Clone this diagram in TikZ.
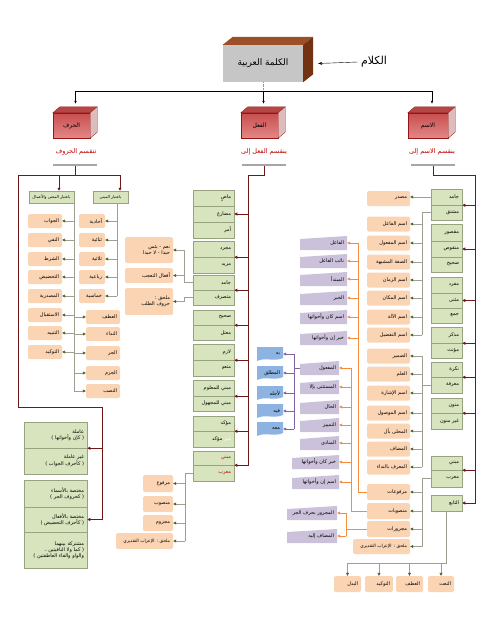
\documentclass[tikz,border=0pt]{standalone}
\usepackage{fontspec}
\newfontfamily\arabicfont[Script=Arabic]{DejaVu Sans}
\TeXXeTstate=1
\usetikzlibrary{arrows.meta, calc}

\newcommand{\ar}[1]{\beginR #1\endR}
% top and side faces of a raised box: node, dx, dy, top, side
\newcommand{\boxsides}[5]{%
  \path[#4] (#1.north west) -- ++(#2,-#3) -- ([shift={(#2,-#3)}]#1.north east) -- (#1.north east) -- cycle;
  \path[#5] (#1.north east) -- ++(#2,-#3) -- ([shift={(#2,-#3)}]#1.south east) -- (#1.south east) -- cycle;}

\definecolor{peachfill}{RGB}{251,212,180}
\definecolor{cellfill}{RGB}{215,228,189}
\definecolor{celldraw}{RGB}{150,162,128}
\definecolor{lavfill}{RGB}{204,193,218}
\definecolor{bluefill}{RGB}{141,179,226}
\definecolor{maroonline}{RGB}{112,24,24}
\definecolor{oliveline}{RGB}{155,160,145}
\definecolor{olivetip}{RGB}{79,98,40}
\definecolor{orangeline}{RGB}{247,140,60}
\definecolor{purpleline}{RGB}{128,100,162}
\definecolor{redlabel}{RGB}{192,0,0}
\definecolor{redtop}{RGB}{200,78,78}
\definecolor{redbot}{RGB}{228,135,135}
\definecolor{redline}{RGB}{150,20,20}

\tikzset{
	every node/.style={font=\arabicfont\fontsize{5}{6}\selectfont}, % small arabic text everywhere
	cell/.style={draw=celldraw, line width=0.5pt, fill=cellfill, text width=#1, align=right, inner xsep=3pt, inner ysep=0pt, minimum height=16}, % green table cell
	peach/.style={fill=peachfill, rounded corners=1.5pt, text width=#1, align=right, inner xsep=3pt, inner ysep=0pt, minimum height=14}, % orange rounded box
	lav/.style={text width=#1, align=right, inner xsep=3pt, inner ysep=0pt, minimum height=14,
		path picture={\fill[lavfill] (path picture bounding box.south west) -- (path picture bounding box.south east) -- (path picture bounding box.north east) -- ([yshift=-3pt]path picture bounding box.north west) -- cycle;}}, % purple slanted box
	bluebox/.style={text width=#1, align=right, inner xsep=3pt, inner ysep=0pt, minimum height=14,
		path picture={\fill[bluefill] (path picture bounding box.north west) -- (path picture bounding box.north east) -- ([yshift=3pt]path picture bounding box.south east) .. controls ([xshift=-8pt,yshift=-1pt]path picture bounding box.south east) and ([xshift=8pt,yshift=4pt]path picture bounding box.south west) .. (path picture bounding box.south west) -- cycle;}}, % blue wavy box
	head/.style={draw=celldraw, line width=0.5pt, fill=cellfill, inner sep=0pt, minimum height=12, font=\arabicfont\fontsize{4}{5}\selectfont}, % header of a list
	small/.style={font=\arabicfont\fontsize{4.4}{5.4}\selectfont},
	redbox/.style={draw=redline, line width=0.4pt, top color=redtop, bottom color=redbot, minimum width=37, minimum height=25, font=\arabicfont\fontsize{6}{7}\selectfont},
	redtxt/.style={text=redlabel, font=\arabicfont\fontsize{6.5}{8}\selectfont},
	bar/.style={fill=gray!70, inner sep=0pt, minimum width=44, minimum height=1.6},
	mline/.style={draw=maroonline, line width=0.8pt},
	marr/.style={mline, -{Triangle[length=3pt,width=3pt]}},
	oline/.style={draw=oliveline, line width=0.6pt},
	oarr/.style={oline, -{Triangle[length=3pt,width=3pt,color=olivetip]}},
	orline/.style={draw=orangeline, line width=0.6pt},
	orarr/.style={orline, -{Triangle[length=3pt,width=3pt]}},
	pline/.style={draw=purpleline, line width=0.6pt},
	parr/.style={pline, -{Triangle[length=3pt,width=3pt]}},
}

\begin{document}
\begin{tikzpicture}[x=1pt, y=-1pt]
	\useasboundingbox (0,0) rectangle (495,640);

	% top
	\node[fill={rgb,255:red,198;green,198;blue,198}, minimum width=80, minimum height=37, font=\arabicfont\fontsize{9}{10}\selectfont] (kalima) at (263,63.5) {\ar{الكلمة العربية}};
	\boxsides{kalima}{10}{8}{fill={rgb,255:red,155;green,80;blue,40}}{fill={rgb,255:red,115;green,50;blue,18}}
	\node[font=\arabicfont\fontsize{11}{12}\selectfont] (kalam) at (374,62) {\ar{الكلام}};
	\draw[-{Stealth[length=4pt]}, thin] (kalam.west) -- ([xshift=15pt]kalima.east);

	\node[redbox] (harf) at (71.5,125.5) {\ar{الحرف}};
	\node[redbox] (fil) at (259.5,125.5) {\ar{الفعل}};
	\node[redbox, minimum width=40] (ism) at (428,125.5) {\ar{الاسم}};
	\foreach \n in {harf,fil,ism}{
		\boxsides{\n}{7}{6}{fill=redtop!90!black, draw=redline, line width=0.3pt}{fill={rgb,255:red,222;green,188;blue,188}, draw=redline, line width=0.3pt}
		\coordinate (\n-in) at ([xshift=4pt]\n.north);
	}
	\coordinate (tbar) at (0,91);
	\draw[orange, densely dotted] (kalima.south) -- (kalima.south |- tbar);
	\draw[thin] (harf-in |- tbar) -- (ism-in |- tbar);
	\foreach \n in {harf,fil,ism}
		\draw[thin, -{Latex[length=3pt,width=2.5pt]}] (\n-in |- tbar) -- ([yshift=9pt]\n-in);

	\node[redtxt] (harflbl) at (76,152) {\ar{تنقسم الحروف}};
	\node[redtxt] (fillbl) at (264,152) {\ar{ينقسم الفعل إلى}};
	\node[redtxt] (ismlbl) at (432,152) {\ar{ينقسم الاسم إلى}};
	\node[bar] (bar1) at (75,165) {};
	\node[bar] (bar2) at (264,165) {};
	\node[bar] (bar3) at (433,165) {};

	% ---------------- harf
	\node[head, minimum width=45] (maana) at (51.5,197) {\ar{باعتبار المعنى والأعمال}};
	\node[head, minimum width=35] (mabna) at (110.5,197) {\ar{باعتبار المبنى}};

	\node[peach=28] (jawab) at (45,221) {\ar{الجواب}};
	\node[peach=28] (nafy) at (45,240) {\ar{النفي}};
	\node[peach=28] (shart) at (45,259) {\ar{الشرط}};
	\node[peach=28] (tahdid) at (45,277) {\ar{التحضيض}};
	\node[peach=28] (masdariya) at (45,296) {\ar{المصدرية}};
	\node[peach=28] (istiqbal) at (45,315) {\ar{الاستقبال}};
	\node[peach=28] (tanbih) at (45,333) {\ar{التنبيه}};
	\node[peach=28] (tawkid) at (45,352) {\ar{التوكيد}};

	\node[peach=20] (ahadiya) at (92,221) {\ar{أحادية}};
	\node[peach=20] (thunaiya) at (92,240) {\ar{ثنائية}};
	\node[peach=20] (thulathiya) at (92,259) {\ar{ثلاثية}};
	\node[peach=20] (rubaiya) at (92,277) {\ar{رباعية}};
	\node[peach=20] (khumasiya) at (92,296) {\ar{خماسية}};

	\node[peach=28] (atf) at (103,317) {\ar{العطف}};
	\node[peach=28] (nida) at (103,334) {\ar{النداء}};
	\node[peach=28] (jarr) at (103,353) {\ar{الجر}};
	\node[peach=28] (jazm) at (103,373) {\ar{الجزم}};
	\node[peach=28] (nasb) at (103,391) {\ar{النصب}};

	\node[cell=57, minimum height=26] (g1a) at (55.5,435) {\ar{عاملة}\\\ar{( كإن وأخواتها )}};
	\node[cell=57, minimum height=26] (g1b) at (55.5,461) {\ar{غير عاملة}\\\ar{( كأحرف الجواب )}};
	\node[cell=57, minimum height=27] (g2a) at (55.5,493.5) {\ar{مختصة بالأسماء}\\\ar{( كحروف الجر )}};
	\node[cell=57, minimum height=25] (g2b) at (55.5,519.5) {\ar{مختصة بالأفعال}\\\ar{( كأحرف التحضيض )}};
	\node[cell=57, minimum height=36] (g2c) at (55.5,550) {\ar{مشتركة بينهما}\\\ar{( كما ولا النافيتين ،}\\\ar{والواو والفاء العاطفتين )}};

	\coordinate (lc1) at (18,175);
	\coordinate (lc2) at (18,407);
	\coordinate (lc3) at (102,407);
	\coordinate (lc4) at (120,175);
	\coordinate (lc5) at ([xshift=7.5pt]maana.north);
	\draw[mline] (bar1.south) -- (bar1.south |- lc1);
	\draw[mline] (lc3) -- (lc2) -- (lc1) -- (lc4);
	\draw[mline] (lc3) -- (g2b.east -| lc3);
	\draw[marr] (lc5 |- lc1) -- (lc5);
	\draw[marr] (lc4) -- (lc4 |- mabna.north);
	\draw[marr] (g1a.south east -| lc3) -- (g1a.south east);
	\draw[marr] (g2b.east -| lc3) -- (g2b.east);

	\coordinate (t1) at (117,0);
	\coordinate (t2) at (74,0);
	\draw[oline] (mabna.south -| t1) -- (khumasiya.east -| t1);
	\draw[oline] (maana.south -| t2) -- (nasb.west -| t2);
	\foreach \n in {ahadiya,thunaiya,thulathiya,rubaiya,khumasiya}
		\draw[oarr] (\n.east -| t1) -- (\n.east);
	\foreach \n in {jawab,nafy,shart,tahdid,masdariya,istiqbal,tanbih,tawkid}
		\draw[oarr] (\n.east -| t2) -- (\n.east);
	\foreach \n in {atf,nida,jarr,jazm,nasb}
		\draw[oarr] (\n.west -| t2) -- (\n.west);

	% ---------------- fil
	\node[cell=35] (madi) at (213.5,198) {\ar{ماضٍ}};
	\node[cell=35] (mudari) at (213.5,214) {\ar{مضارع}};
	\node[cell=35] (amr) at (213.5,230) {\ar{أمر}};
	\node[cell=35] (mujarrad) at (213.5,249) {\ar{مجرد}};
	\node[cell=35] (mazid) at (213.5,265) {\ar{مزيد}};
	\node[cell=35, minimum height=15] (jamid) at (213.5,282.5) {\ar{جامد}};
	\node[cell=35, minimum height=15] (mutasarrif) at (213.5,297.5) {\ar{متصرف}};
	\node[cell=35, minimum height=15] (sahih) at (213.5,317.5) {\ar{صحيح}};
	\node[cell=35, minimum height=15] (mutal) at (213.5,332.5) {\ar{معتل}};
	\node[cell=35] (lazim) at (213.5,352) {\ar{لازم}};
	\node[cell=35] (mutaaddi) at (213.5,368) {\ar{متعدٍ}};
	\node[cell=35] (malum) at (213.5,388) {\ar{مبني للمعلوم}};
	\node[cell=35, minimum height=15] (majhul) at (213.5,403.5) {\ar{مبني للمجهول}};
	\node[cell=35, minimum height=15] (muakkad) at (213.5,423.5) {\ar{مؤكد}};
	\node[cell=35] (ghmuakkad) at (213.5,439) {\ar{\textcolor{redlabel}{غير} مؤكد}};
	\node[cell=35, minimum height=14, text=redlabel] (mabni) at (213.5,458) {\ar{مبني}};
	\node[cell=35, text=redlabel] (murab) at (213.5,473) {\ar{معرب}};

	\node[peach=42, minimum height=26] (nimaa) at (149,250) {\ar{نعم - بئس}\\\ar{حبذا - لا حبذا}};
	\node[peach=42, minimum height=15] (taajjub) at (149,275.5) {\ar{أفعال التعجب}};
	\node[peach=42, minimum height=27] (mulhaq1) at (149,301.5) {\ar{ملحق :}\\\ar{حروف الطلب}};

	\node[peach=24, minimum height=17] (marfu) at (158,483.5) {\ar{مرفوع}};
	\node[peach=24, minimum height=16] (mansub) at (158,504) {\ar{منصوب}};
	\node[peach=24, minimum height=16] (majzum) at (158,523) {\ar{مجزوم}};
	\node[peach=51, minimum height=16, small] (taqdiri1) at (144.5,541) {\ar{ملحق : الإعراب التقديري}};

	\coordinate (mc1) at (248,175);
	\draw[marr] (bar2.south) |- (mc1) -- (mc1 |- mabni.south east) -- (mabni.south east);
	\foreach \a in {mudari.east, mujarrad.south east, jamid.south east, sahih.south east, lazim.south east, malum.south east, muakkad.south east}
		\draw[marr] (mc1 |- \a) -- (\a);

	\coordinate (t3) at (184,0);
	\draw[oarr] (jamid.west) -- (jamid.west -| t3) |- (nimaa.east);
	\draw[oarr] (taajjub.east -| t3) -- (taajjub.east);
	\draw[oarr] (mutasarrif.west) -- (mutasarrif.west -| t3) |- (mulhaq1.east);
	\coordinate (t4) at (185,0);
	\draw[oline] (murab.west) -- (murab.west -| t4) -- (taqdiri1.east -| t4);
	\foreach \n in {marfu,mansub,majzum,taqdiri1}
		\draw[oarr] (\n.east -| t4) -- (\n.east);

	% ---------------- ism
	\node[cell=25] (jamid2) at (446.5,197) {\ar{جامد}};
	\node[cell=25, minimum height=15] (mushtaq) at (446.5,212.5) {\ar{مشتق}};
	\node[cell=25, minimum height=17] (maqsur) at (446.5,232.5) {\ar{مقصور}};
	\node[cell=25] (manqus) at (446.5,249) {\ar{منقوص}};
	\node[cell=25, minimum height=15] (sahih2) at (446.5,264.5) {\ar{صحيح}};
	\node[cell=25] (mufrad) at (446.5,285) {\ar{مفرد}};
	\node[cell=25, minimum height=15] (muthanna) at (446.5,300.5) {\ar{مثنى}};
	\node[cell=25, minimum height=15] (jam) at (446.5,315.5) {\ar{جمع}};
	\node[cell=25] (mudhakkar) at (446.5,335) {\ar{مذكر}};
	\node[cell=25, minimum height=15] (muannath) at (446.5,350.5) {\ar{مؤنث}};
	\node[cell=25, minimum height=15] (nakira) at (446.5,369.5) {\ar{نكرة}};
	\node[cell=25] (marifa) at (446.5,385) {\ar{معرفة}};
	\node[cell=25, minimum height=15] (munawwan) at (446.5,405.5) {\ar{منون}};
	\node[cell=25] (ghmunawwan) at (446.5,421) {\ar{غير منون}};
	\node[cell=25, minimum height=14] (mabni2) at (446.5,463) {\ar{مبني}};
	\node[cell=25, minimum height=17] (murab2) at (446.5,478.5) {\ar{معرب}};
	\node[cell=25] (tabi) at (446.5,503) {\ar{التابع}};

	\coordinate (rc1) at (475,175);
	\draw[marr] (bar3.south) |- (rc1) -- (rc1 |- tabi.east) -- (tabi.east);
	\foreach \a in {jamid2.south east, manqus.east, muthanna.east, mudhakkar.south east, nakira.south east, munawwan.south east, mabni2.south east}
		\draw[marr] (rc1 |- \a) -- (\a);

	\node[peach=37, minimum height=15] (masdar) at (388.5,198.5) {\ar{مصدر}};
	\node[peach=37, minimum height=15] (ismfail) at (388.5,224) {\ar{اسم الفاعل}};
	\node[peach=37, minimum height=15] (ismmaful) at (388.5,243) {\ar{اسم المفعول}};
	\node[peach=37, minimum height=15] (sifa) at (388.5,262) {\ar{الصفة المشبهة}};
	\node[peach=37, minimum height=15] (zaman) at (388.5,280) {\ar{اسم الزمان}};
	\node[peach=37, minimum height=15] (makan) at (388.5,298) {\ar{اسم المكان}};
	\node[peach=37, minimum height=15] (ala) at (388.5,317) {\ar{اسم الآلة}};
	\node[peach=37, minimum height=15] (tafdil) at (388.5,335) {\ar{اسم التفضيل}};

	\node[peach=37, minimum height=15] (damir) at (388.5,356) {\ar{الضمير}};
	\node[peach=37, minimum height=15] (alam) at (388.5,374) {\ar{العلم}};
	\node[peach=37, minimum height=15] (ishara) at (388.5,393) {\ar{اسم الإشارة}};
	\node[peach=37, minimum height=15] (mawsul) at (388.5,413) {\ar{اسم الموصول}};
	\node[peach=37, minimum height=15] (muhalla) at (388.5,431) {\ar{المحلى بأل}};
	\node[peach=37, minimum height=15] (mudaf) at (388.5,449) {\ar{المضاف}};
	\node[peach=37, minimum height=15] (nida2) at (388.5,467) {\ar{المعرف بالنداء}};

	\node[peach=37, minimum height=16] (marfuat) at (388.5,492) {\ar{مرفوعات}};
	\node[peach=37, minimum height=16] (mansubat) at (388.5,511) {\ar{منصوبات}};
	\node[peach=37, minimum height=16] (majrurat) at (388.5,529) {\ar{مجرورات}};
	\node[peach=51, minimum height=15, small] (taqdiri2) at (381.5,546.5) {\ar{ملحق : الإعراب التقديري}};

	\coordinate (t5) at (422,0);
	\draw[oarr] (jamid2.west) -- (jamid2.west -| masdar.east);
	\draw[oline] (mushtaq.west) -- (mushtaq.west -| t5) -- (tafdil.east -| t5);
	\draw[oline] (marifa.west) -- (marifa.west -| t5);
	\draw[oline] (damir.east -| t5) -- (nida2.east -| t5);
	\draw[oline] (murab2.west) -- (murab2.west -| t5) -- (taqdiri2.east -| t5);
	\foreach \n in {ismfail,ismmaful,sifa,zaman,makan,ala,tafdil,damir,alam,ishara,mawsul,muhalla,mudaf,nida2,marfuat,mansubat,majrurat,taqdiri2}
		\draw[oarr] (\n.east -| t5) -- (\n.east);

	\node[lav=41] (fail) at (323.5,243) {\ar{الفاعل}};
	\node[lav=41] (naib) at (323.5,261) {\ar{نائب الفاعل}};
	\node[lav=41] (mubtada) at (323.5,279) {\ar{المبتدأ}};
	\node[lav=41] (khabar) at (323.5,298) {\ar{الخبر}};
	\node[lav=41] (ismkana) at (323.5,317) {\ar{اسم كان وأخواتها}};
	\node[lav=41] (khabarinna) at (323.5,338) {\ar{خبر إن وأخواتها}};

	\node[lav=33] (maful) at (319.5,368) {\ar{المفعول}};
	\node[lav=33] (mustathna) at (319.5,387) {\ar{المستثنى بإلا}};
	\node[lav=33] (hal) at (319.5,407) {\ar{الحال}};
	\node[lav=33] (tamyiz) at (319.5,425) {\ar{التمييز}};
	\node[lav=33] (munada) at (319.5,443) {\ar{المنادى}};
	\node[lav=41] (khabarkana) at (315.5,462) {\ar{خبر كان وأخواتها}};
	\node[lav=41] (isminna) at (315.5,482) {\ar{اسم إن وأخواتها}};

	\node[lav=44] (majrur) at (312,513) {\ar{المجرور بحرف الجر}};
	\node[lav=44] (mudafilayh) at (312,536) {\ar{المضاف إليه}};

	\coordinate (t6) at (358,0);
	\coordinate (t7) at (351,0);
	\coordinate (t8) at (346,0);
	\draw[orline] (marfuat.west) -- (marfuat.west -| t6) -- (fail.east -| t6);
	\draw[orline] (mansubat.west) -- (mansubat.west -| t7) -- (maful.east -| t7);
	\draw[orline] (majrurat.west) -- (majrurat.west -| t8);
	\draw[orline] (majrur.east -| t8) -- (mudafilayh.east -| t8);
	\foreach \n in {fail,naib,mubtada,khabar,ismkana,khabarinna}
		\draw[orarr] (\n.east -| t6) -- (\n.east);
	\foreach \n in {maful,mustathna,hal,tamyiz,munada,khabarkana,isminna}
		\draw[orarr] (\n.east -| t7) -- (\n.east);
	\foreach \n in {majrur,mudafilayh}
		\draw[orarr] (\n.east -| t8) -- (\n.east);

	\node[bluebox=20] (bihi) at (270,354) {\ar{به}};
	\node[bluebox=20] (mutlaq) at (270,373) {\ar{المطلق}};
	\node[bluebox=20] (liajlihi) at (270,393) {\ar{لأجله}};
	\node[bluebox=20] (fihi) at (270,411) {\ar{فيه}};
	\node[bluebox=20] (maahu) at (270,429) {\ar{معه}};
	\coordinate (t9) at (294,0);
	\draw[pline] (maful.west) -- (maful.west -| t9);
	\draw[pline] (bihi.east -| t9) -- (maahu.east -| t9);
	\foreach \n in {bihi,mutlaq,liajlihi,fihi,maahu}
		\draw[parr] (\n.east -| t9) -- (\n.east);

	\node[peach=21, minimum height=16] (badal) at (347.5,584) {\ar{البدل}};
	\node[peach=22, minimum height=16] (tawkid2) at (379,584) {\ar{التوكيد}};
	\node[peach=21, minimum height=16] (atf2) at (409.5,584) {\ar{العطف}};
	\node[peach=20, minimum height=16] (nat) at (441,584) {\ar{النعت}};
	\coordinate (tbus) at (0,563);
	\draw[oline] (tabi.south) |- (badal.north |- tbus);
	\foreach \n in {badal,tawkid2,atf2,nat}
		\draw[oarr] (\n.north |- tbus) -- (\n.north);
\end{tikzpicture}
\end{document}
